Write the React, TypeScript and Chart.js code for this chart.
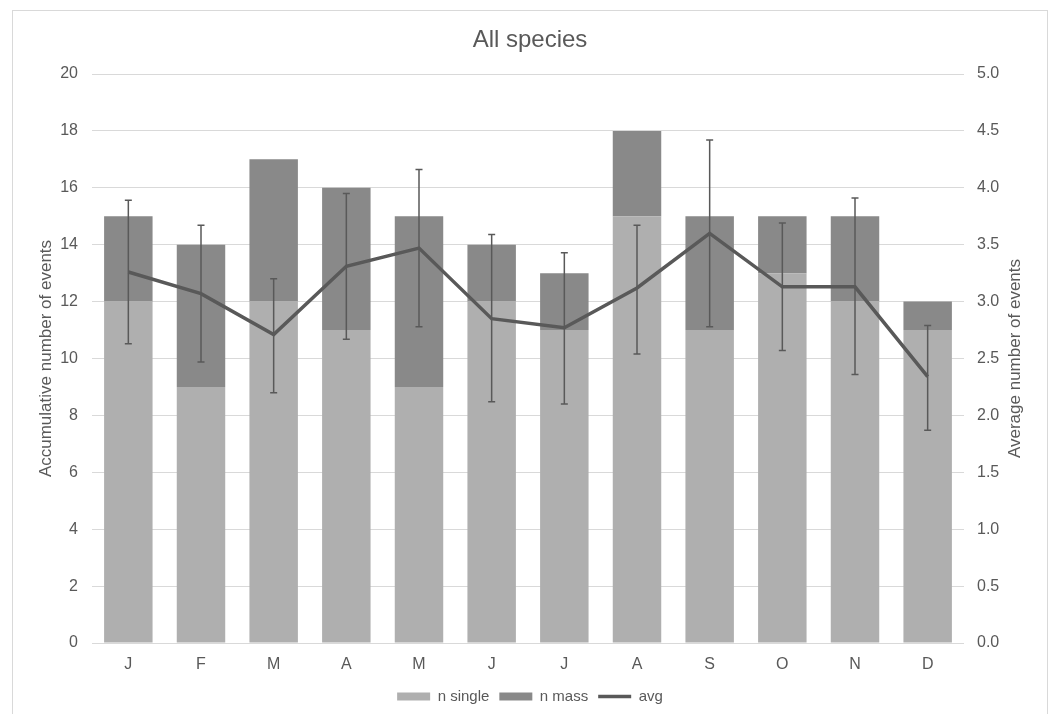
import React, { useEffect, useRef } from "react";
import { Chart, registerables } from "chart.js";

Chart.register(...registerables);

const months = ["J", "F", "M", "A", "M", "J", "J", "A", "S", "O", "N", "D"];
const nSingle = [12, 9, 12, 11, 9, 12, 11, 15, 11, 13, 12, 11];
const nMass = [3, 5, 5, 5, 6, 2, 2, 3, 4, 2, 3, 1];
const avg = [3.26, 3.07, 2.71, 3.31, 3.47, 2.85, 2.77, 3.12, 3.6, 3.13, 3.13, 2.34];
const avgHigh = [3.89, 3.67, 3.2, 3.95, 4.16, 3.59, 3.43, 3.67, 4.42, 3.69, 3.91, 2.79];
const avgLow = [2.63, 2.47, 2.2, 2.67, 2.78, 2.12, 2.1, 2.54, 2.78, 2.57, 2.36, 1.87];
const leftTicks = [0, 2, 4, 6, 8, 10, 12, 14, 16, 18, 20];
const rightTicks = [0, 0.5, 1, 1.5, 2, 2.5, 3, 3.5, 4, 4.5, 5];

const TEXT = "#595959";
const FONT = "'Liberation Sans', Arial, Helvetica, sans-serif";
const CW = 1034;
const CH = 703;
const AREA_BOTTOM = 632;

const errorBarPlugin = {
  id: "errorBars",
  afterDatasetsDraw(chart: any) {
    const meta = chart.getDatasetMeta(2);
    const y1 = chart.scales.y1;
    const ctx = chart.ctx;
    ctx.save();
    ctx.strokeStyle = TEXT;
    ctx.lineWidth = 1.5;
    meta.data.forEach((pt: any, i: number) => {
      const x = pt.x;
      const yt = y1.getPixelForValue(avgHigh[i]);
      const yb = y1.getPixelForValue(avgLow[i]);
      ctx.beginPath();
      ctx.moveTo(x, yt);
      ctx.lineTo(x, yb);
      ctx.moveTo(x - 3.5, yt);
      ctx.lineTo(x + 3.5, yt);
      ctx.moveTo(x - 3.5, yb);
      ctx.lineTo(x + 3.5, yb);
      ctx.stroke();
    });
    ctx.restore();
  },
};

const axisTitlePlugin = {
  id: "axisTitles",
  afterDraw(chart: any) {
    const ctx = chart.ctx;
    const a = chart.chartArea;
    const cy = (a.top + a.bottom) / 2;
    ctx.save();
    ctx.fillStyle = TEXT;
    ctx.font = `17px ${FONT}`;
    ctx.textAlign = "center";
    ctx.textBaseline = "middle";
    const draw = (x: number, t: string) => {
      ctx.save();
      ctx.translate(x, cy);
      ctx.rotate(-Math.PI / 2);
      ctx.fillText(t, 0, 0);
      ctx.restore();
    };
    draw(33, "Accumulative number of events");
    draw(1002, "Average number of events");
    ctx.restore();
  },
};

export default function App() {
  const ref = useRef<HTMLCanvasElement | null>(null);

  useEffect(() => {
    if (!ref.current) return;
    const chart = new Chart(ref.current, {
      type: "bar",
      data: {
        labels: months,
        datasets: [
          {
            type: "bar",
            label: "n single",
            data: nSingle,
            backgroundColor: "#afafaf",
            yAxisID: "y",
            stack: "s",
            categoryPercentage: 1,
            barPercentage: 0.667,
          },
          {
            type: "bar",
            label: "n mass",
            data: nMass,
            backgroundColor: "#898989",
            yAxisID: "y",
            stack: "s",
            categoryPercentage: 1,
            barPercentage: 0.667,
          },
          {
            type: "line",
            label: "avg",
            data: avg,
            borderColor: "#595959",
            backgroundColor: "#595959",
            borderWidth: 3.5,
            pointRadius: 0,
            tension: 0,
            yAxisID: "y1",
            order: -1,
          } as any,
        ],
      },
      options: {
        responsive: false,
        animation: false,
        layout: { padding: { left: 0, right: 0, top: 0, bottom: 0 } },
        plugins: {
          tooltip: { enabled: false },
          title: {
            display: true,
            text: "All species",
            color: TEXT,
            font: { family: FONT, size: 24, weight: "normal" },
            padding: { top: 15, bottom: 19.2 },
          },
          legend: {
            position: "bottom",
            labels: {
              color: TEXT,
              font: { family: FONT, size: 15 },
              usePointStyle: true,
              pointStyleWidth: 33,
              boxHeight: 8,
              padding: 10,
              sort: (a: any, b: any) => a.datasetIndex - b.datasetIndex,
              generateLabels: (chart: any) => {
                const items = Chart.defaults.plugins.legend.labels.generateLabels(chart);
                return items.map((it: any) => {
                  if (it.datasetIndex === 2) {
                    return { ...it, pointStyle: "line", lineWidth: 3.5, strokeStyle: "#595959", fillStyle: "#595959" };
                  }
                  return { ...it, pointStyle: "rect", lineWidth: 0 };
                });
              },
            },
          },
        },
        scales: {
          x: {
            stacked: true,
            grid: { display: false, drawTicks: false },
            border: { display: false },
            ticks: { color: TEXT, font: { family: FONT, size: 16 }, padding: 12 },
            afterFit: (s: any) => {
              const lh = s.chart.legend ? s.chart.legend.height : 0;
              s.height = CH - AREA_BOTTOM - lh;
            },
          },
          y: {
            stacked: true,
            position: "left",
            min: 0,
            max: 20,
            afterBuildTicks: (s: any) => {
              s.ticks = leftTicks.map((v) => ({ value: v }));
            },
            grid: { color: "#d9d9d9", lineWidth: 1, drawTicks: false },
            border: { display: false },
            ticks: { color: TEXT, font: { family: FONT, size: 16 }, padding: 14 },
            afterFit: (s: any) => {
              s.width = 79;
            },
          },
          y1: {
            position: "right",
            min: 0,
            max: 5,
            afterBuildTicks: (s: any) => {
              s.ticks = rightTicks.map((v) => ({ value: v }));
            },
            grid: { drawOnChartArea: false, drawTicks: false },
            border: { display: false },
            ticks: {
              color: TEXT,
              font: { family: FONT, size: 16 },
              padding: 13,
              callback: (v: any) => Number(v).toFixed(1),
            },
            afterFit: (s: any) => {
              s.width = CW - 951;
            },
          },
        },
      } as any,
      plugins: [errorBarPlugin, axisTitlePlugin],
    });
    return () => chart.destroy();
  }, []);

  return (
    <div
      style={{
        position: "absolute",
        left: 12,
        top: 10,
        width: CW + 2,
        height: 704,
        border: "1px solid #d9d9d9",
        borderBottom: "none",
        boxSizing: "border-box",
        background: "#fff",
      }}
    >
      <canvas ref={ref} width={CW} height={CH} style={{ display: "block", width: CW, height: CH }} />
    </div>
  );
}
